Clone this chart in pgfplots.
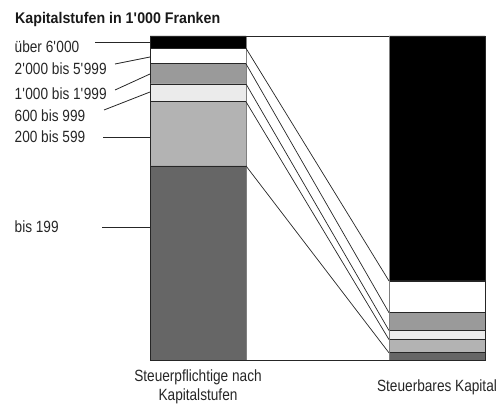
\documentclass[border=0pt]{standalone}
\usepackage{fontspec}
\setmainfont{Liberation Sans}[FakeStretch=0.84]
\newfontfamily\titlefont{Liberation Sans}[FakeStretch=0.92]
\usepackage{pgfplots}
\pgfplotsset{compat=1.18}
\definecolor{cA}{HTML}{666666}
\definecolor{cB}{HTML}{B3B3B3}
\definecolor{cC}{HTML}{EBEBEB}
\definecolor{cD}{HTML}{9A9A9A}
\definecolor{cE}{HTML}{FFFFFF}
\definecolor{cF}{HTML}{000000}
\newcommand{\q}{\textquotesingle}
\newcommand{\lblfont}{\fontsize{16.3}{19}\selectfont}
\begin{document}
\begin{tikzpicture}[x=1bp,y=1bp]
\useasboundingbox (0,0) rectangle (501,405);
\begin{axis}[
  at={(150bp,45bp)}, anchor=south west,
  width=335bp, height=324bp, scale only axis,
  xmin=0, xmax=335, ymin=0, ymax=100,
  clip=false,
  axis line style={draw=none},
  major tick length=0pt,
  ytick=\empty,
  xtick={48,287},
  xticklabels={{Steuerpflichtige nach\\Kapitalstufen},{Steuerbares Kapital}},
  xticklabel style={align=center, anchor=center, yshift=-27bp, font=\lblfont, text=black!85},
  ybar stacked, bar width=96,
]
\addplot[fill=cA, draw=black!85, line width=0.8bp] coordinates {(48,59.9) (287,2.2)};
\addplot[fill=cB, draw=black!85, line width=0.8bp] coordinates {(48,19.8) (287,4.1)};
\addplot[fill=cC, draw=black!85, line width=0.8bp] coordinates {(48,5.5) (287,2.8)};
\addplot[fill=cD, draw=black!85, line width=0.8bp] coordinates {(48,6.2) (287,5.5)};
\addplot[fill=cE, draw=black!85, line width=0.8bp] coordinates {(48,4.8) (287,9.8)};
\addplot[fill=cF, draw=black!85, line width=0.8bp] coordinates {(48,3.8) (287,75.6)};
\end{axis}
\begin{axis}[
  at={(150bp,45bp)}, anchor=south west,
  width=335bp, height=324bp, scale only axis,
  xmin=0, xmax=335, ymin=0, ymax=100,
  clip=false, hide axis,
]
\addplot[gray, line width=0.8bp] coordinates {(96,0) (96,100)};
\addplot[gray, line width=0.8bp] coordinates {(239,0) (239,100)};
\addplot[black!85, line width=0.8bp] coordinates {(96,100) (239,100)};
\addplot[black!85, line width=0.8bp] coordinates {(96,0) (239,0)};
\addplot[black!85, line width=0.7bp] coordinates {(96,59.9) (239,2.2)};
\addplot[black!85, line width=0.7bp] coordinates {(96,79.7) (239,6.3)};
\addplot[black!85, line width=0.7bp] coordinates {(96,85.2) (239,9.1)};
\addplot[black!85, line width=0.7bp] coordinates {(96,91.4) (239,14.6)};
\addplot[black!85, line width=0.7bp] coordinates {(96,96.2) (239,24.4)};
\end{axis}
% title
\node[anchor=base west, inner sep=0, font=\titlefont\fontsize{15.5}{19}\selectfont\bfseries, text=black!90] at (15,382) {Kapitalstufen in 1\q 000 Franken};
% labels
\begin{scope}[every node/.style={anchor=base west, inner sep=0, font=\lblfont, text=black!85}]
\node at (14.5,353) {über 6\q 000};
\node at (14.5,331) {2\q 000 bis 5\q 999};
\node at (14.5,306) {1\q 000 bis 1\q 999};
\node at (14.5,284) {600 bis 999};
\node at (14.5,263) {200 bis 599};
\node at (14.5,173) {bis 199};
\end{scope}
% leader lines
\begin{scope}[line width=0.8bp, black!85]
\draw (95,363)--(150,363);
\draw (115,341)--(150,348);
\draw (115,315)--(150,331);
\draw (104,295)--(150,313);
\draw (103,267.3)--(150,267.3);
\draw (102,177.3)--(150,177.3);
\end{scope}
\end{tikzpicture}
\end{document}
